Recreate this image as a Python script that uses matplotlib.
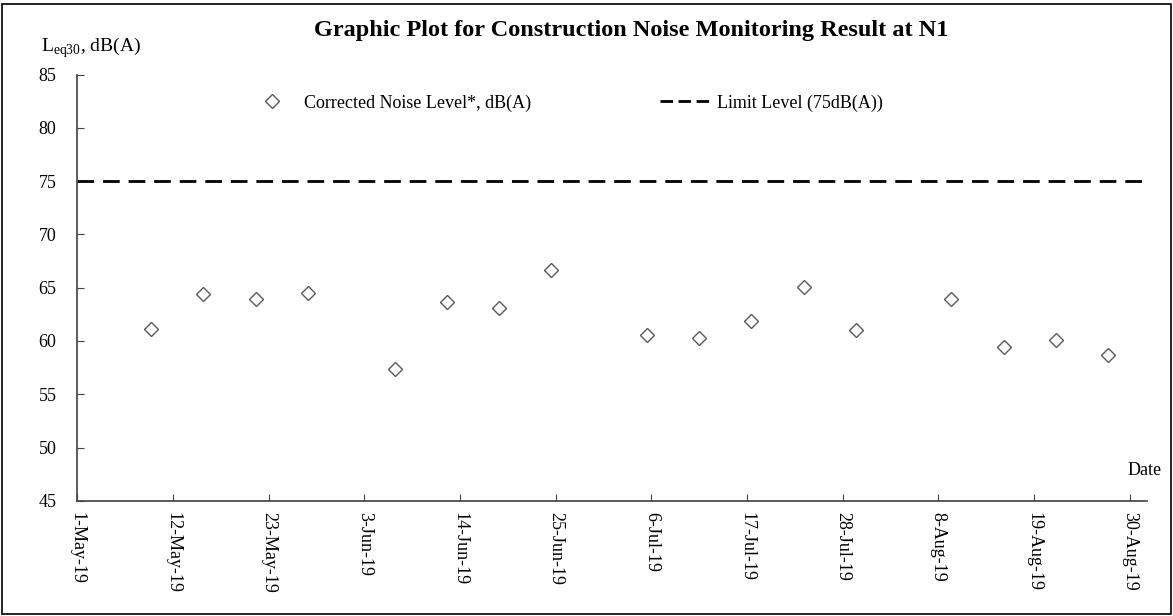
import numpy as np
import pandas as pd
import matplotlib
matplotlib.use("Agg")
import matplotlib.pyplot as plt
import matplotlib.dates as mdates
from matplotlib.patches import Rectangle
from matplotlib.lines import Line2D

plt.rcParams['font.family'] = ['Liberation Serif', 'DejaVu Serif']
plt.rcParams['mathtext.fontset'] = 'custom'
plt.rcParams['mathtext.rm'] = 'Liberation Serif'

# monitoring dates and corrected noise levels
dates = ['2019-05-09', '2019-05-15', '2019-05-21', '2019-05-27', '2019-06-06',
         '2019-06-12', '2019-06-18', '2019-06-24', '2019-07-05', '2019-07-11',
         '2019-07-17', '2019-07-23', '2019-07-29', '2019-08-09', '2019-08-15',
         '2019-08-21', '2019-08-27']
noise = [61.1, 64.4, 63.9, 64.5, 57.4, 63.7, 63.1, 66.7, 60.6, 60.3,
         61.9, 65.1, 61.0, 63.9, 59.4, 60.1, 58.7]
limit = 75
tick_dates = pd.date_range('2019-05-01', '2019-08-30', freq='11D')

# Excel plots each day in the middle of its slot
x = pd.to_datetime(dates) + pd.Timedelta(hours=12)

fig = plt.figure(figsize=(11.73, 6.16), dpi=100)
ax = fig.add_axes([0.0659, 0.187, 0.912, 0.692])

pts, = ax.plot(x, noise, linestyle='none', marker='D', ms=7.5, mfc='white',
               mec='#5a5a5a', mew=1.0)
ax.axhline(limit, color='black', lw=2.0, dashes=(6, 3.2))

ax.set_xlim(pd.Timestamp('2019-05-01'), pd.Timestamp('2019-09-01'))
ax.set_ylim(45, 85)
ax.set_yticks(np.arange(45, 86, 5))
ax.set_xticks(tick_dates)
ax.xaxis.set_major_formatter(mdates.DateFormatter('%-d-%b-%y'))

for s in ['top', 'right']:
    ax.spines[s].set_visible(False)
for s in ['left', 'bottom']:
    ax.spines[s].set_color('#404040')
    ax.spines[s].set_linewidth(1.2)
ax.tick_params(axis='both', direction='in', length=5, color='#404040',
               labelsize=13, pad=8)
ax.tick_params(axis='y', pad=15)
plt.setp(ax.get_xticklabels(), rotation=270, ha='center', va='top')

# shorter dashes in the legend sample, like the original
dash_key = Line2D([], [], color='black', lw=2.0, dashes=(4.5, 2))
fig.legend([pts, dash_key], ['Corrected Noise Level*, dB(A)', 'Limit Level (75dB(A))'],
           loc='center left', bbox_to_anchor=(0.2025, 0.833), ncol=2,
           frameon=False, borderpad=0, fontsize=13, handlelength=2.8,
           handletextpad=0.4, columnspacing=7.1)

fig.text(0.538, 0.951, 'Graphic Plot for Construction Noise Monitoring Result at N1',
         ha='center', va='center', fontsize=17.5, fontweight='bold')
fig.text(0.035, 0.922, r'L$_{\mathregular{eq30}}$, dB(A)', ha='left',
         va='center', fontsize=14)
fig.text(0.99, 0.237, 'Date', ha='right', va='center', fontsize=13)

fig.patches.append(Rectangle((0.002, 0.004), 0.996, 0.99, transform=fig.transFigure,
                             fill=False, edgecolor='black', lw=1.2))

fig.savefig('out.png', dpi=100)
